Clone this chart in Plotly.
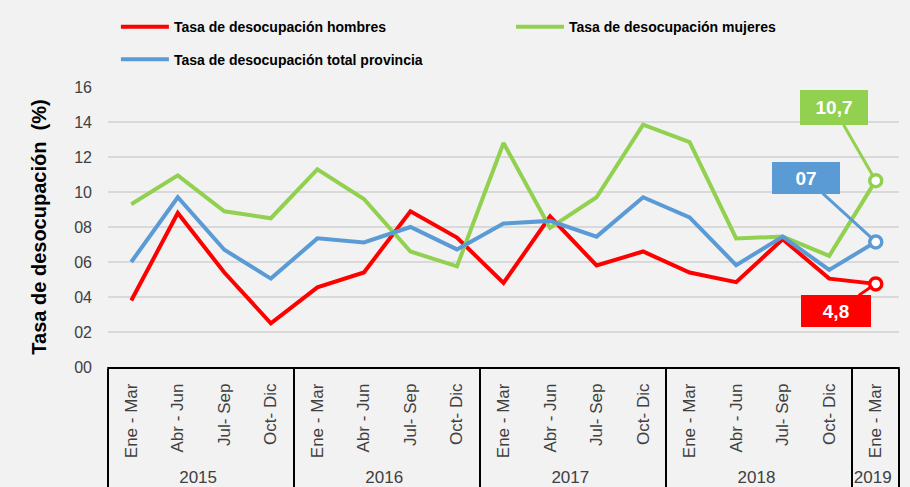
import plotly.graph_objects as go

years = ["2015"] * 4 + ["2016"] * 4 + ["2017"] * 4 + ["2018"] * 4 + ["2019"]
quarters = ["Ene - Mar", "Abr - Jun", "Jul- Sep", "Oct- Dic"] * 4 + ["Ene - Mar"]

hombres = [3.8, 8.8, 5.4, 2.5, 4.55, 5.4, 8.9, 7.4,
           4.8, 8.6, 5.8, 6.6, 5.4, 4.85, 7.3, 5.05, 4.75]
mujeres = [9.3, 10.95, 8.9, 8.5, 11.3, 9.6, 6.6, 5.75,
           12.8, 7.95, 9.7, 13.85, 12.85, 7.35, 7.45, 6.35, 10.65]
total = [6.0, 9.7, 6.7, 5.05, 7.35, 7.12, 8.0, 6.72,
         8.2, 8.35, 7.45, 9.7, 8.55, 5.82, 7.45, 5.55, 7.15]

labels_last = ["4,8", "10,7", "07"]

RED = "#FF0000"
GREEN = "#92D050"
BLUE = "#5B9BD5"
BG = "#F2F2F2"

x = [years, quarters]
fig = go.Figure()
series = [
    ("Tasa de desocupación hombres", hombres, RED, "legend"),
    ("Tasa de desocupación mujeres", mujeres, GREEN, "legend3"),
    ("Tasa de desocupación total provincia", total, BLUE, "legend2"),
]
for name, vals, col, lg in series:
    fig.add_trace(go.Scatter(x=x, y=vals, mode="lines", name=name,
                             line=dict(color=col, width=4), legend=lg))
for name, vals, col, lg in series:
    fig.add_trace(go.Scatter(x=[[years[-1]], [quarters[-1]]], y=[vals[-1]], mode="markers",
                             showlegend=False,
                             marker=dict(symbol="circle", size=12, color="white",
                                         line=dict(color=col, width=3.5))))

# callout annotations
callouts = [
    (hombres[-1], labels_last[0], RED, -40, 27, 66, 28),
    (mujeres[-1], labels_last[1], GREEN, -42, -73, 64, 31),
    (total[-1], labels_last[2], BLUE, -70, -64, 64, 28),
]
for yv, txt, col, ax, ay, w, h in callouts:
    fig.add_annotation(x=16, y=yv, xref="x", yref="y",
                       text="<b>" + txt + "</b>", showarrow=True, arrowhead=0,
                       arrowwidth=3, arrowcolor=col, ax=ax, ay=ay, standoff=4,
                       bgcolor=col, bordercolor=col, width=w, height=h,
                       font=dict(color="white", size=19, family="Liberation Sans"))

# frame lines at the left and right ends of the category table
for xp in (0, 1):
    fig.add_shape(type="line", xref="paper", yref="paper", x0=xp, x1=xp,
                  y0=0, y1=-120 / 280, line=dict(color="black", width=1.5))

legfont = dict(size=14, color="black", family="Liberation Sans", weight="bold")
legcommon = dict(orientation="h", xanchor="left", yanchor="top",
                 font=legfont, bgcolor="rgba(0,0,0,0)", itemwidth=48)
fig.update_layout(
    width=910, height=487,
    margin=dict(l=108, r=11, t=87, b=120, autoexpand=False),
    paper_bgcolor=BG, plot_bgcolor=BG,
    font=dict(family="Liberation Sans", color="#404040"),
    legend=dict(x=0.01, y=1.271, **legcommon),
    legend3=dict(x=0.5095, y=1.271, **legcommon),
    legend2=dict(x=0.01, y=1.155, **legcommon),
    xaxis=dict(type="multicategory", range=[-0.5, 16.5], automargin=False,
               showline=True, linecolor="black", linewidth=1.5,
               showdividers=True, dividercolor="black", dividerwidth=1.5,
               tickangle=-90, tickfont=dict(size=17, color="#404040"),
               ticklabelstandoff=8,
               showgrid=False, ticks=""),
    yaxis=dict(range=[0, 16], dtick=2, tick0=0, tickformat="02d", automargin=False,
               showgrid=True, gridcolor="#D9D9D9", gridwidth=2,
               zeroline=False, tickfont=dict(size=16, color="#404040"),
               ticks="", ticklen=0, ticklabelstandoff=15,
               title=dict(text="<b>Tasa de desocupación \u00a0(%)</b>",
                          font=dict(size=20, color="black"), standoff=22)),
)

fig.write_html("out.html", config={"displayModeBar": False},
               post_script="document.body.style.margin='0px';")
